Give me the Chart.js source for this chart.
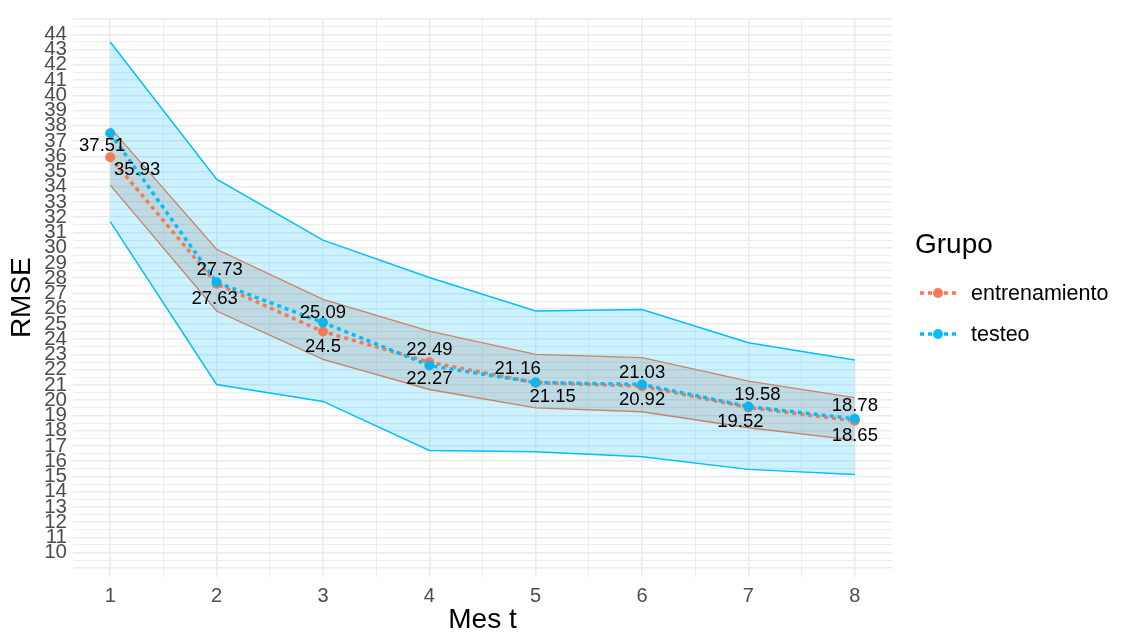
<!DOCTYPE html>
<html>
<head>
<meta charset="utf-8">
<script src="https://cdn.jsdelivr.net/npm/chart.js@4.4.1/dist/chart.umd.min.js"></script>
<style>
  html, body { margin: 0; padding: 0; background: #fff; }
  #wrap { width: 1124px; height: 636px; position: relative; }
</style>
</head>
<body>
<div id="wrap"><canvas id="myChart" width="1124" height="636"></canvas></div>
<script>
// Data
var months = [1, 2, 3, 4, 5, 6, 7, 8];
var trainRmse = [35.93, 27.63, 24.5, 22.49, 21.15, 20.92, 19.52, 18.65];
var testRmse = [37.51, 27.73, 25.09, 22.27, 21.16, 21.03, 19.58, 18.78];
var trainUpper = [37.88, 29.9, 26.61, 24.53, 23.0, 22.79, 21.25, 20.16];
var trainLower = [34.11, 25.85, 22.67, 20.7, 19.5, 19.24, 18.19, 17.38];
var testUpper = [43.5, 34.5, 30.5, 28.05, 25.85, 25.95, 23.77, 22.63];
var testLower = [31.71, 21.03, 19.92, 16.7, 16.62, 16.29, 15.46, 15.13];
var yTickLabels = [10, 11, 12, 13, 14, 15, 16, 17, 18, 19, 20, 21, 22, 23, 24, 25, 26, 27,
    28, 29, 30, 31, 32, 33, 34, 35, 36, 37, 38, 39, 40, 41, 42, 43, 44];
var seriesNames = ['entrenamiento', 'testeo'];

var FONT = "'Liberation Sans', Arial, sans-serif";
var orange = '#F47B54';
var blue = '#00BFFF';

function pts(vals) {
    return months.map(function (m, i) { return { x: m, y: vals[i] }; });
}

// dotted line with point, used by the legend
function legendKey(ctx, x, y, color) {
    ctx.save();
    ctx.strokeStyle = color;
    ctx.lineWidth = 3.5;
    ctx.setLineDash([4, 4]);
    ctx.beginPath();
    ctx.moveTo(x, y);
    ctx.lineTo(x + 36, y);
    ctx.stroke();
    ctx.setLineDash([]);
    ctx.fillStyle = color;
    ctx.beginPath();
    ctx.arc(x + 18, y, 5, 0, Math.PI * 2);
    ctx.fill();
    ctx.restore();
}

var labelPlugin = {
    id: 'valueLabels',
    afterDatasetsDraw: function (chart, args, opts) {
        var ctx = chart.ctx,
            xs = chart.scales.x,
            ys = chart.scales.y;
        ctx.save();
        ctx.font = '18.5px ' + FONT;
        ctx.fillStyle = '#000';
        ctx.textAlign = 'center';
        ctx.textBaseline = 'middle';
        months.forEach(function (m, i) {
            var hi = Math.max(trainRmse[i], testRmse[i]),
                lo = Math.min(trainRmse[i], testRmse[i]),
                px = xs.getPixelForValue(m);
            ctx.fillText(String(hi), px + opts.nudgeHigh[i], ys.getPixelForValue(hi) + opts.dyHigh[i]);
            ctx.fillText(String(lo), px + opts.nudgeLow[i], ys.getPixelForValue(lo) + opts.dyLow[i]);
        });
        ctx.restore();
    }
};

var legendPlugin = {
    id: 'sideLegend',
    afterDraw: function (chart) {
        var ctx = chart.ctx;
        ctx.save();
        ctx.fillStyle = '#000';
        ctx.textBaseline = 'middle';
        ctx.textAlign = 'left';
        ctx.font = '28px ' + FONT;
        ctx.fillText('Grupo', 915, 245);
        ctx.font = '21.5px ' + FONT;
        legendKey(ctx, 920, 293, orange);
        ctx.fillText(seriesNames[0], 971, 294);
        legendKey(ctx, 920, 334, blue);
        ctx.fillText(seriesNames[1], 971, 335);
        ctx.restore();
    }
};

var ctx = document.getElementById('myChart').getContext('2d');

var data = {
    datasets: [
        { label: 'testLower', data: pts(testLower), borderColor: blue, borderWidth: 1.5,
          pointRadius: 0, fill: false, order: 10 },
        { label: 'testUpper', data: pts(testUpper), borderColor: blue, borderWidth: 1.5,
          pointRadius: 0, fill: 0, backgroundColor: 'rgba(0,191,255,0.2)', order: 9 },
        { label: 'trainLower', data: pts(trainLower), borderColor: '#CC8466', borderWidth: 1.3,
          pointRadius: 0, fill: false, order: 8 },
        { label: 'trainUpper', data: pts(trainUpper), borderColor: '#CC8466', borderWidth: 1.3,
          pointRadius: 0, fill: 2, backgroundColor: 'rgba(140,130,125,0.22)', order: 7 },
        { label: seriesNames[0], data: pts(trainRmse), borderColor: orange, backgroundColor: orange,
          borderWidth: 3.5, borderDash: [4, 4], pointRadius: 5, pointBorderWidth: 0, fill: false, order: 2 },
        { label: seriesNames[1], data: pts(testRmse), borderColor: blue, backgroundColor: '#10B5EE',
          borderWidth: 3.5, borderDash: [4, 4], pointRadius: 5, pointBorderWidth: 0, fill: false, order: 1 }
    ]
};

var isInt = function (v) { return Math.abs(v - Math.round(v)) < 1e-6; };

var myChart = new Chart(ctx, {
    type: 'line',
    data: data,
    plugins: [labelPlugin, legendPlugin],
    options: {
        responsive: false,
        animation: false,
        layout: { padding: { top: 18, right: 232, left: 0, bottom: 0 } },
        plugins: {
            legend: { display: false },
            tooltip: { enabled: false },
            valueLabels: {
                nudgeHigh: [-8, 3, 0, 0, -18, 0, 9, 0],
                nudgeLow: [27, -2, 0, 0, 17, 0, -8, 0],
                dyHigh: [13, -12, -10, -12, -14, -12, -12, -13],
                dyLow: [13, 15, 15, 13, 14, 14, 14, 15]
            }
        },
        scales: {
            x: {
                type: 'linear',
                min: 0.65,
                max: 8.35,
                afterBuildTicks: function (scale) {
                    var t = [];
                    months.forEach(function (m, i) {
                        t.push({ value: m });
                        if (i < months.length - 1) t.push({ value: m + 0.5 });
                    });
                    scale.ticks = t;
                },
                afterFit: function (scale) { scale.height = 59; },
                border: { display: false },
                grid: {
                    drawTicks: false,
                    color: '#EBEBEB',
                    lineWidth: function (c) { return c.tick && isInt(c.tick.value) ? 1.5 : 0.9; }
                },
                ticks: {
                    autoSkip: false,
                    maxRotation: 0,
                    padding: 7,
                    color: '#4D4D4D',
                    font: { family: FONT, size: 20 },
                    callback: function (v) { return isInt(v) ? String(v) : ''; }
                },
                title: {
                    display: true,
                    text: 'Mes t',
                    color: '#000',
                    font: { family: FONT, size: 28, lineHeight: 1 },
                    padding: { top: 0, bottom: 2 }
                }
            },
            y: {
                type: 'linear',
                min: 8.4,
                max: 45.05,
                afterBuildTicks: function (scale) {
                    var t = [{ value: yTickLabels[0] - 1 }, { value: yTickLabels[0] - 0.5 }];
                    yTickLabels.forEach(function (v) {
                        t.push({ value: v });
                        t.push({ value: v + 0.5 });
                    });
                    t.push({ value: yTickLabels[yTickLabels.length - 1] + 1 });
                    scale.ticks = t;
                },
                afterFit: function (scale) { scale.width = 73; },
                border: { display: false },
                grid: {
                    drawTicks: false,
                    color: '#EBEBEB',
                    lineWidth: function (c) { return c.tick && isInt(c.tick.value) ? 1.5 : 0.9; }
                },
                ticks: {
                    autoSkip: false,
                    padding: 6,
                    color: '#4D4D4D',
                    font: { family: FONT, size: 20.5 },
                    callback: function (v) {
                        return isInt(v) && yTickLabels.indexOf(Math.round(v)) >= 0 ? String(Math.round(v)) : '';
                    }
                },
                title: {
                    display: true,
                    text: 'RMSE',
                    color: '#000',
                    font: { family: FONT, size: 28, lineHeight: 1 },
                    padding: { top: 8, bottom: 0 }
                }
            }
        }
    }
});
</script>
</body>
</html>
